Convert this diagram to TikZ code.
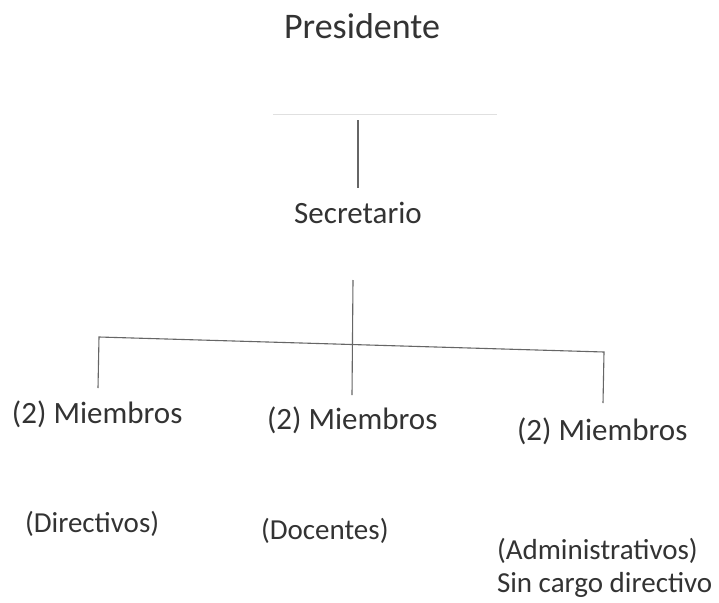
\documentclass[tikz,border=0pt]{standalone}
\usepackage{fontspec}
\setmainfont{Carlito}
\begin{document}
\begin{tikzpicture}[x=1pt,y=-1pt,
  lbl/.style={anchor=base west,inner sep=0pt,outer sep=0pt,text=black!80,font=\fontsize{31}{36}\selectfont},
  sub/.style={lbl,font=\fontsize{29}{34}\selectfont},
  conn/.style={draw=black!60,line width=1.1pt},
  faint/.style={draw=black!12,line width=1pt}]
\useasboundingbox (0,0) rectangle (719,602);
\fill[white] (0,0) rectangle (719,602);
% texts
\node[lbl,anchor=base,font=\fontsize{36}{40}\selectfont] (pres) at (362,39) {Presidente};
\node[lbl,anchor=base] (sec) at (358,223) {Secretario};
\node[lbl] (m1) at (12,423) {(2) Miembros};
\node[lbl] (m2) at (267,429) {(2) Miembros};
\node[lbl] (m3) at (517,440) {(2) Miembros};
\node[sub] (d1) at (25,532) {(Directivos)};
\node[sub] (d2) at (261,539) {(Docentes)};
\node[sub] (d3) at (497,559) {(Administrativos)};
\node[sub] (d4) at (497,592) {Sin cargo directivo};
% coordinates of connector ends
\coordinate (fa) at (273,114);
\coordinate (fb) at (497,114);
\coordinate (p1) at (358,120);
\coordinate (p2) at (358,188);
\coordinate (s1) at (353,280);
\coordinate (s2) at (352,395);
\coordinate (hl) at (99,337);
\coordinate (hr) at (604,352);
\coordinate (l1) at (98,388);
\coordinate (r1) at (603,403);
% connectors
\draw[faint] (fa) -- (fb);
\draw[conn] (p1) -- (p2);
\draw[conn] (s1) -- (s2);
\draw[conn] (l1) -- (hl) -- (hr) -- (r1);
\end{tikzpicture}
\end{document}
